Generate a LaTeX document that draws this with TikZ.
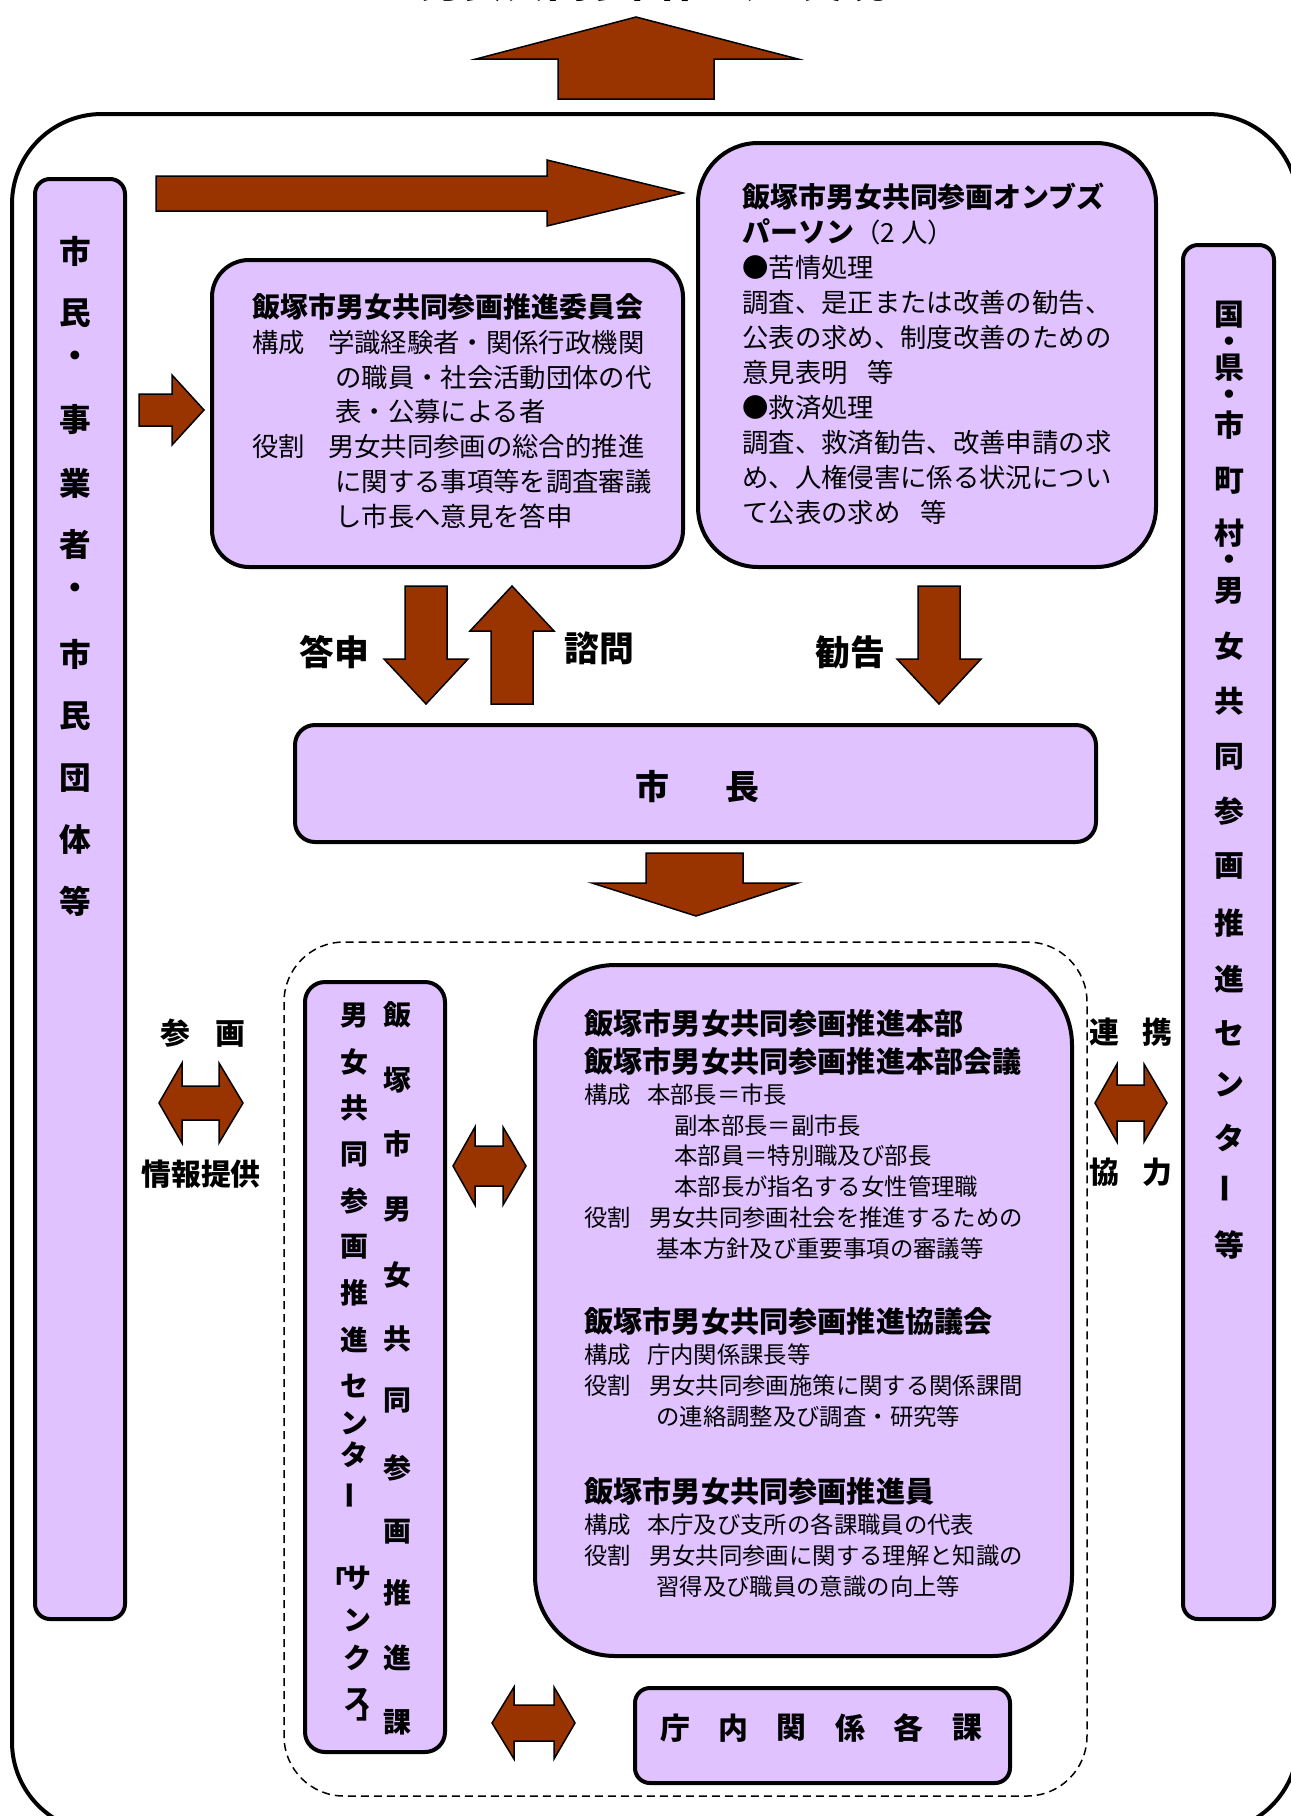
\documentclass[tikz,border=0pt]{standalone}
\usepackage{fontspec}
\setmainfont{Noto Sans CJK JP}
\usepackage{tikz}
\usetikzlibrary{fit}
\definecolor{arrowbrown}{HTML}{993300}
\definecolor{boxlilac}{HTML}{DFC2FF}
\tikzset{
  pbox/.style={draw=black, line width=0.8mm, fill=boxlilac, inner sep=0pt},
  barrow/.style={draw=black, line width=0.3mm, fill=arrowbrown, line join=miter},
  colchar/.style={inner sep=0pt, font=\bfseries\fontsize{#1}{#1}\selectfont},
  colchar/.default=18pt,
  lbl/.style={inner sep=0pt, font=\bfseries\fontsize{19.8pt}{19.8pt}\selectfont},
  sidelbl/.style={inner sep=0pt, font=\bfseries\fontsize{17pt}{17pt}\selectfont},
  txt/.style={inner sep=0pt, align=left, anchor=north west}
}
\newcommand{\boxhead}{\bfseries\fontsize{15.9pt}{19.84pt}\selectfont}
\newcommand{\hqhead}{\bfseries\fontsize{16.6pt}{17.57pt}\selectfont}

\begin{document}
\begin{tikzpicture}[x=0.2mm, y=-0.2mm]
\useasboundingbox (0,0) rectangle (1290,1816);
% goal at the top
\node[anchor=base, inner sep=0pt, font=\bfseries\fontsize{24.1pt}{24.1pt}\selectfont] (goal) at (653,-3) {男女共同参画社会の実現};
\draw[barrow] (558,99) -- (558,59) -- (476,59) -- (636,17) -- (798,59) -- (714,59) -- (714,99) -- cycle;
% outer frame and dashed city office area
\draw[line width=0.8mm, rounded corners=18mm] (12,114) rectangle (1298,1832);
\draw[line width=0.3mm, dash pattern=on 1.6mm off 1mm, rounded corners=12mm] (284,942) rectangle (1087,1796);

% boxes
\node[pbox, rounded corners=3mm, fit={(35,179) (125,1619)}] (shimin) {};
\node[pbox, rounded corners=3mm, fit={(1183,245) (1274,1619)}] (kuni) {};
\node[pbox, rounded corners=7.4mm, fit={(212,260) (683,567)}] (iinkai) {};
\node[pbox, rounded corners=12mm, fit={(698,143) (1156,567)}] (onbuzu) {};
\node[pbox, rounded corners=4mm, fit={(295,725) (1096,842)}] (shicho) {};
\node[pbox, rounded corners=4mm, fit={(305,982) (445,1752)}] (sankusu) {};
\node[pbox, rounded corners=16mm, fit={(535,965) (1072,1656)}] (honbu) {};
\node[pbox, rounded corners=3mm, fit={(635,1688) (1010,1783)}] (kakka) {};

% block arrows
\draw[barrow] (156,176) -- (547,176) -- (547,160) -- (683,193) -- (547,226) -- (547,211) -- (156,211) -- cycle;
\draw[barrow] (139,394) -- (172,394) -- (172,375) -- (204,410) -- (172,445) -- (172,426) -- (139,426) -- cycle;
\foreach \x in {426,939}{
  \draw[barrow] (\x-21,586) -- (\x+21,586) -- (\x+21,659) -- (\x+42,659) -- (\x,704) -- (\x-42,659) -- (\x-21,659) -- cycle;
}
\draw[barrow] (491,704) -- (491,631) -- (470,631) -- (512,586) -- (554,631) -- (533,631) -- (533,704) -- cycle;
\draw[barrow] (646,853) -- (743,853) -- (743,883) -- (798,883) -- (696,916) -- (592,883) -- (646,883) -- cycle;
\foreach \lt/\lb/\rb/\rt/\cy/\hh/\sh in {159/182/219/243/1103/40/17, 1095/1117/1144/1167/1103/39/18,
    453/475/503/526/1166/39/20, 492/514/554/575/1723/36/18}{
  \draw[barrow] (\lt,\cy) -- (\lb,\cy-\hh) -- (\lb,\cy-\sh) -- (\rb,\cy-\sh) -- (\rb,\cy-\hh) -- (\rt,\cy)
    -- (\rb,\cy+\hh) -- (\rb,\cy+\sh) -- (\lb,\cy+\sh) -- (\lb,\cy+\hh) -- cycle;
}

% vertical column texts
\foreach \c/\y [count=\i] in {市/251, 民/313, ・/359, 事/420, 業/483, 者/544, ・/591, 市/654, 民/716, 団/778, 体/840, 等/901}
  \node[colchar] (shimin-\i) at (75,\y) {\c};
\foreach \c/\y [count=\i] in {国/315, ・/345, 県/368, ・/398, 市/425, 町/481, 村/533, ・/563, 男/591, 女/646, 共/701,
    同/757, 参/811, 画/866, 推/923, 進/979, セ/1033, ン/1085, タ/1138, 等/1245}
  \node[colchar=17pt] (kuni-\i) at (1229,\y) {\c};
\node[colchar=17pt, rotate=90] (kuni-bar) at (1229,1189) {ー};
\foreach \c/\y [count=\i] in {飯/1015, 塚/1080, 市/1144, 男/1210, 女/1275, 共/1339, 同/1401, 参/1468, 画/1532,
    推/1593, 進/1658, 課/1722}
  \node[colchar=15.9pt] (ka-\i) at (397,\y) {\c};
\foreach \c/\y [count=\i] in {男/1016, 女/1062, 共/1108, 同/1155, 参/1201, 画/1247, 推/1293, 進/1340, セ/1386,
    ン/1423, タ/1455}
  \node[colchar=15.9pt] (center-\i) at (354,\y) {\c};
\foreach \c/\y [count=\i] in {サ/1578, ン/1620, ク/1658, ス/1700}
  \node[colchar=15.9pt] (sanks-\i) at (357,\y) {\c};
\node[colchar=15.9pt, rotate=90] (center-bar) at (354,1496) {ー};
\node[colchar=15.9pt] (center-open) at (333,1580) {「};
\node[colchar=15.9pt] (center-close) at (370,1712) {」};

% committee
\node[txt, font=\fontsize{15pt}{19.84pt}\selectfont] (iinkaitxt) at (252,293) {%
{\boxhead 飯塚市男女共同参画推進委員会}\\
構成\hspace*{4.6mm}学識経験者・関係行政機関\\
\hspace*{16.6mm}の職員・社会活動団体の代\\
\hspace*{16.6mm}表・公募による者\\
役割\hspace*{4.6mm}男女共同参画の総合的推進\\
\hspace*{16.6mm}に関する事項等を調査審議\\
\hspace*{16.6mm}し市長へ意見を答申};

% ombudsperson
\node[txt, font=\fontsize{15pt}{19.9pt}\selectfont] (onbuzutxt) at (742,183) {%
{\boxhead 飯塚市男女共同参画オンブズ}\\
{\boxhead パーソン}（2 人）\\
●苦情処理\\
調査、是正または改善の勧告、\\
公表の求め、制度改善のための\\
意見表明\hspace*{4mm}等\\
●救済処理\\
調査、救済勧告、改善申請の求\\
め、人権侵害に係る状況につい\\
て公表の求め\hspace*{4mm}等};

% mayor and flow labels
\node[inner sep=0pt, font=\bfseries\fontsize{19.3pt}{19.3pt}\selectfont] (shicholbl) at (697,787) {市\hspace{11.2mm}長};
\node[lbl] (toshin) at (334,652) {答申};
\node[lbl] (shimon) at (599,648) {諮問};
\node[lbl] (kankoku) at (850,652) {勧告};
\node[sidelbl] (sankaku) at (203,1033) {参\hspace{5mm}画};
\node[sidelbl] (joho) at (201,1174) {情報提供};
\node[sidelbl] (renkei) at (1131,1032) {連\hspace{4.6mm}携};
\node[sidelbl] (kyoryoku) at (1131,1172) {協\hspace{4.6mm}力};

% headquarters
\node[txt, font=\fontsize{13.3pt}{17.57pt}\selectfont] (honbu-1) at (584,1009) {%
{\hqhead 飯塚市男女共同参画推進本部}\\[1.4mm]
{\hqhead 飯塚市男女共同参画推進本部会議}\\
構成\hspace*{3.2mm}本部長＝市長\\
\hspace*{18mm}副本部長＝副市長\\
\hspace*{18mm}本部員＝特別職及び部長\\
\hspace*{18mm}本部長が指名する女性管理職\\
役割\hspace*{3.6mm}男女共同参画社会を推進するための\\
\hspace*{14.4mm}基本方針及び重要事項の審議等};
\node[txt, font=\fontsize{13.3pt}{17.57pt}\selectfont] (honbu-2) at (584,1307) {%
{\hqhead 飯塚市男女共同参画推進協議会}\\
構成\hspace*{3.2mm}庁内関係課長等\\
役割\hspace*{3.6mm}男女共同参画施策に関する関係課間\\
\hspace*{14.4mm}の連絡調整及び調査・研究等};
\node[txt, font=\fontsize{13.3pt}{17.57pt}\selectfont] (honbu-3) at (584,1477) {%
{\hqhead 飯塚市男女共同参画推進員}\\
構成\hspace*{3.2mm}本庁及び支所の各課職員の代表\\
役割\hspace*{3.6mm}男女共同参画に関する理解と知識の\\
\hspace*{14.4mm}習得及び職員の意識の向上等};

% departments
\foreach \c [count=\i] in {庁,内,関,係,各,課}
  \node[colchar=17pt] (kakka-\i) at ({675+58.4*(\i-1)},1728) {\c};
\end{tikzpicture}
\end{document}
